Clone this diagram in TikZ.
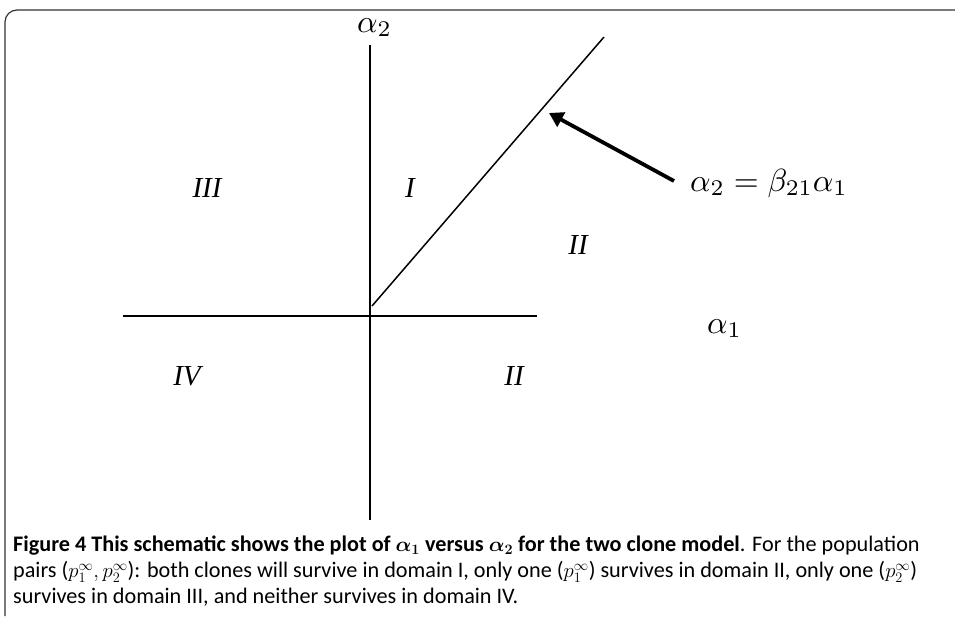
\documentclass[tikz,border=0pt]{standalone}
\usepackage{amsmath}
\usepackage{graphicx}
\usepackage{fontspec}
\setmainfont{Liberation Serif}
\newfontfamily\capfont{Carlito}
\usetikzlibrary{arrows.meta,positioning}
\definecolor{frame}{HTML}{333333}
\newcommand{\axmath}[1]{\scalebox{3.2}{$#1$}}
\newcommand{\capsetup}{\capfont\fontsize{22.2}{26}\selectfont\lineskip=0pt\relax\lineskiplimit=-50pt\relax}
\tikzset{
  axis/.style={line width=2.4pt, black},
  region/.style={font=\fontsize{29}{31}\selectfont\itshape, inner sep=0pt},
  axlbl/.style={inner sep=0pt},
  pointer/.style={line width=3.8pt, -{Triangle[length=14pt,width=16pt]}},
}

\begin{document}
\begin{tikzpicture}[x=1pt,y=-1pt]
  \useasboundingbox (0,0) rectangle (955,616);
  % frame
  \draw[frame, line width=1.2pt, rounded corners=12pt] (5,616) -- (5,10) -- (960,10);
  % axes
  \coordinate (o) at (370,316);
  \coordinate (ytop) at (370,45);
  \coordinate (ybot) at (370,520);
  \coordinate (xl) at (123,316);
  \coordinate (xr) at (537,316);
  \draw[axis] (ytop) -- (ybot);
  \draw[axis] (xl) -- (xr);
  \node[axlbl, anchor=base west] (a2) at (357,32) {\axmath{\alpha_2}};
  \node[axlbl, anchor=base west] (a1) at (707,333) {\axmath{\alpha_1}};
  % boundary line
  \coordinate (d0) at (372,306);
  \coordinate (d1) at (604,37);
  \draw[line width=1.5pt] (d0) -- (d1);
  \coordinate (tip) at (549,113);
  \node[axlbl, anchor=base west] (eq) at (690,191) {\axmath{\alpha_2 = \beta_{21}\alpha_1}};
  \draw[pointer] (eq.west) ++(-16,-2) coordinate (tail) -- (tip);
  % domains
  \node[region] (r3) at (207,188) {III};
  \node[region] (r1) at (410,188) {I};
  \node[region] (r2a) at (578,245) {II};
  \node[region] (r4) at (187,376) {IV};
  \node[region] (r2b) at (514,376) {II};
  % caption
  \node[anchor=north west, inner sep=0pt, align=left, font=\capsetup] (cap) at (13,536)
    {\textbf{Figure 4 This schematic shows the plot of $\boldsymbol{\alpha_1}$ versus $\boldsymbol{\alpha_2}$ for the two clone model}. For the population\\
     pairs ($p_1^\infty, p_2^\infty$): both clones will survive in domain I, only one ($p_1^\infty$) survives in domain II, only one ($p_2^\infty$)\\
     survives in domain III, and neither survives in domain IV.};
\end{tikzpicture}
\end{document}
